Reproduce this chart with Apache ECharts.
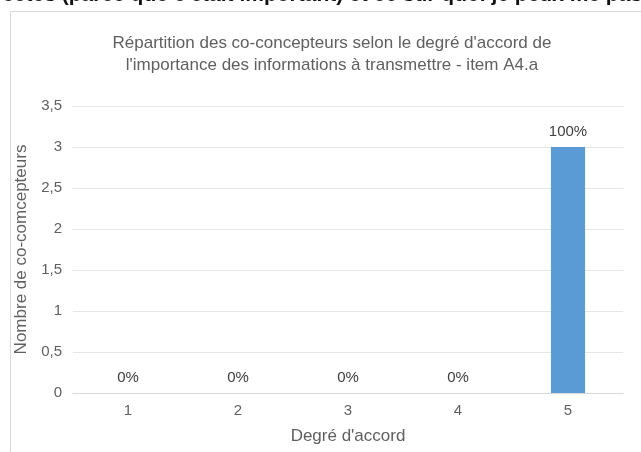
<!DOCTYPE html>
<html>
<head>
<meta charset="utf-8">
<script src="https://cdn.jsdelivr.net/npm/echarts@6/dist/echarts.min.js"></script>
<style>
  html, body { margin: 0; padding: 0; background: #fff; }
  #chart { width: 641px; height: 452px; }
</style>
</head>
<body>
<div id="chart"></div>
<script>
// data
const categories = ['1', '2', '3', '4', '5'];
const counts = [0, 0, 0, 0, 3];
const percents = ['0%', '0%', '0%', '0%', '100%'];
const yTicks = ['0', '0,5', '1', '1,5', '2', '2,5', '3', '3,5'];

const font = 'Liberation Sans, Arial, sans-serif';
const grey = '#606060';

const chart = echarts.init(document.getElementById('chart'));

chart.setOption({
  animation: false,
  textStyle: { fontFamily: font },
  title: {
    text: "Répartition des co-concepteurs selon le degré d'accord de\nl'importance des informations à transmettre - item A4.a",
    left: 327,
    top: 27,
    textAlign: 'center',
    textStyle: { color: grey, fontSize: 17, fontWeight: 'normal', lineHeight: 22, fontFamily: font },
  },
  graphic: [
    {
      // chart frame
      type: 'rect',
      shape: { x: 10.5, y: 11.5, width: 700, height: 500 },
      style: { fill: '#fff', stroke: '#d9d9d9', lineWidth: 1 },
      z: -10,
    },
    {
      // clipped heading of the page above the chart
      type: 'text',
      x: -34,
      y: -15,
      style: {
        text: "aspectes (parce que c'était important) et ce sur quoi je peux me pas",
        font: 'bold 21px ' + font,
        fill: '#111',
      },
    },
  ],
  grid: { left: 73, right: 18, top: 106, bottom: 59 },
  xAxis: {
    type: 'category',
    data: categories,
    name: "Degré d'accord",
    nameLocation: 'middle',
    nameGap: 35,
    nameTextStyle: { color: grey, fontSize: 17 },
    axisLine: { lineStyle: { color: '#d9d9d9' } },
    axisTick: { show: false },
    axisLabel: { color: grey, fontSize: 15, margin: 10 },
  },
  yAxis: {
    type: 'value',
    min: 0,
    max: 3.5,
    interval: 0.5,
    name: 'Nombre de co-comcepteurs',
    nameLocation: 'middle',
    nameGap: 40,
    nameTextStyle: { color: grey, fontSize: 17 },
    axisLine: { show: false },
    axisTick: { show: false },
    splitLine: { lineStyle: { color: '#e6e6e6' } },
    axisLabel: {
      color: grey,
      fontSize: 15,
      margin: 11,
      formatter: (v) => yTicks[Math.round(v * 2)],
    },
  },
  series: [
    {
      type: 'bar',
      data: counts,
      barWidth: '31%',
      itemStyle: { color: '#5b9bd5' },
      label: {
        show: true,
        position: 'top',
        distance: 8,
        color: '#404040',
        fontSize: 15,
        formatter: (p) => percents[p.dataIndex],
      },
    },
  ],
});
</script>
</body>
</html>
